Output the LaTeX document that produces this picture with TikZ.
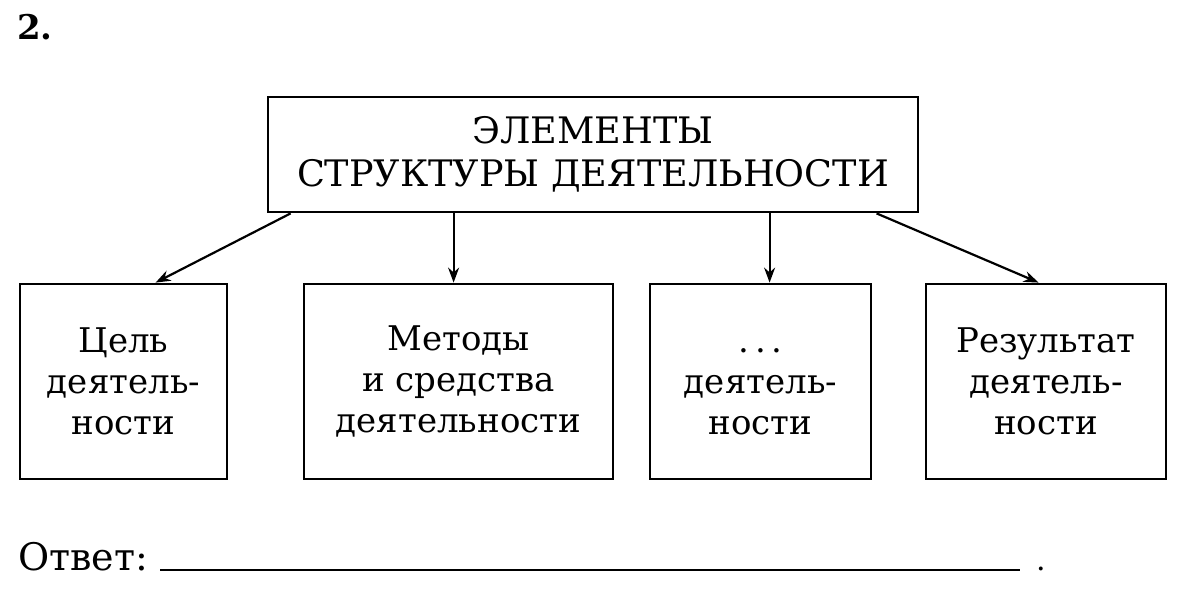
\documentclass[tikz,border=0pt]{standalone}
\usepackage{fontspec}
\setmainfont{DejaVu Serif}
\usetikzlibrary{arrows.meta}
\tikzset{
  boxnode/.style={draw, line width=2.8pt, rectangle, align=center, inner sep=0pt},
  topfont/.style={font=\fontsize{36.5}{43}\selectfont},
  botfont/.style={font=\fontsize{34}{41}\selectfont},
  arr/.style={line width=2.2pt, -{Stealth[length=15pt,width=11pt]}},
}
\begin{document}
\begin{tikzpicture}[x=1pt,y=-1pt]
\useasboundingbox (0,0) rectangle (1179,604);
\node[anchor=base west, font=\fontsize{34}{36}\selectfont\bfseries, inner sep=0pt] (num) at (17,40) {2.};
\node[boxnode, topfont, minimum width=650pt, minimum height=115pt] (top) at (593,154.5) {ЭЛЕМЕНТЫ\\СТРУКТУРЫ ДЕЯТЕЛЬНОСТИ};
\node[boxnode, botfont, minimum width=207pt, minimum height=195pt] (b1) at (123.5,381.5) {Цель\\деятель-\\ности};
\node[boxnode, botfont, minimum width=309pt, minimum height=195pt] (b2) at (458.5,381.5) {Методы\\и средства\\деятельности};
\node[boxnode, botfont, minimum width=221pt, minimum height=195pt] (b3) at (760.5,381.5) {\vphantom{Д}.\,.\,.\\деятель-\\ности};
\node[boxnode, botfont, minimum width=240pt, minimum height=195pt] (b4) at (1046,381.5) {Результат\\деятель-\\ности};
\draw[arr] ([xshift=24pt]top.south west) -- ([xshift=137pt]b1.north west);
\draw[arr] ([xshift=187pt]top.south west) -- ([xshift=151pt]b2.north west);
\draw[arr] ([xshift=503pt]top.south west) -- ([xshift=121pt]b3.north west);
\draw[arr] ([xshift=610pt]top.south west) -- ([xshift=114pt]b4.north west);
\node[anchor=base west, font=\fontsize{38}{44}\selectfont, inner sep=0pt] (ans) at (18,570) {Ответ:};
\coordinate (l1) at (160,570);
\coordinate (l2) at (1020,570);
\draw[line width=2.8pt] (l1) -- (l2);
\node[anchor=base west, font=\fontsize{30}{36}\selectfont, inner sep=0pt] (dot) at (1036,570) {.};
\end{tikzpicture}
\end{document}
